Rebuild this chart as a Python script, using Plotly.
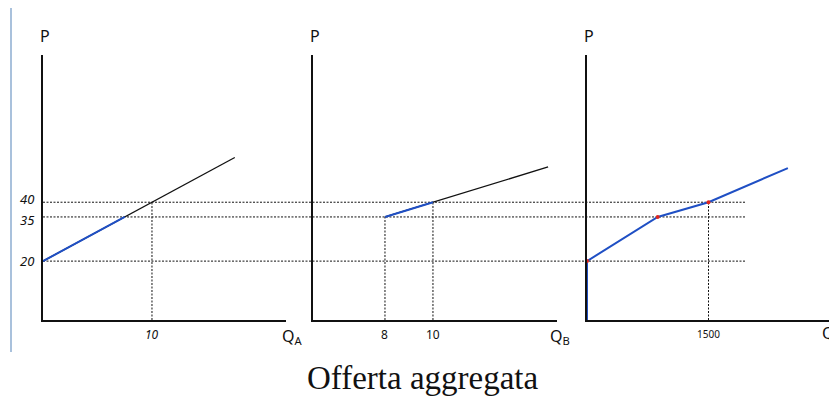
import plotly.graph_objects as go

# ---------------- data ----------------
price_levels = [40, 35, 20]
price_labels = ["40", "35", "20"]

# firm A supply
qa = [0, 7.5, 17.6]
pa = [20, 35, 55.2]
qa_blue = [0, 7.5]
pa_blue = [20, 35]
qa_tick = 10

# firm B supply
qb = [8, 10, 14.8]
pb = [35, 40, 52]
qb_blue = [8, 10]
pb_blue = [35, 40]
qb_ticks = [8, 10]
pb_ticks = [35, 40]

# aggregate supply
qm = [0, 0, 873, 1500, 2480]
pm = [0, 20, 35, 40, 51.6]
qm_kinks = [0, 873, 1500]
pm_kinks = [20, 35, 40]
qm_tick = 1500

title_text = "Offerta aggregata"

# ---------------- layout geometry ----------------
OFF = 8  # page body margin
W, H = 837 - OFF, 397 - OFF
def px(x):
    return (x - OFF) / W
def py(y):
    return 1 - (y - OFF) / H

dom_x = [[px(43), px(286)], [px(313), px(557)], [px(587), px(830)]]
dom_y = [py(320), py(55)]
yr = [0, 90]
xr = [[0, 22.3], [5.0, 15.17], [0, 3000]]

BLACK = "#111111"
BLUE = "#1f4fc4"
RED = "#e0261d"
HAND = "Noto Sans, sans-serif"
DASH = "2px,1.5px"

fig = go.Figure()

def tr(x, y, k, color=BLACK, width=1.3, dash=None, mode="lines", marker=None):
    xa = "x" if k == 1 else f"x{k}"
    ya = "y" if k == 1 else f"y{k}"
    fig.add_trace(go.Scatter(x=x, y=y, xaxis=xa, yaxis=ya, mode=mode,
                             line=dict(color=color, width=width, dash=dash),
                             marker=marker, hoverinfo="skip", showlegend=False,
                             cliponaxis=False))

# panel A
tr([qa_tick, qa_tick], [0, price_levels[0]], 1, width=1, dash=DASH)
tr(qa, pa, 1)
tr(qa_blue, pa_blue, 1, color=BLUE, width=2)

# panel B
for q, p in zip(qb_ticks, pb_ticks):
    tr([q, q], [0, p], 2, width=1, dash=DASH)
tr(qb, pb, 2)
tr(qb_blue, pb_blue, 2, color=BLUE, width=2)

# panel aggregate
tr([qm_tick, qm_tick], [0, price_levels[0]], 3, width=1, dash=DASH)
tr(qm, pm, 3, color=BLUE, width=2)
tr(qm_kinks, pm_kinks, 3, mode="markers", marker=dict(color=RED, size=4))

layout = dict(width=W, height=H, margin=dict(l=0, r=0, t=0, b=0),
              paper_bgcolor="white", plot_bgcolor="rgba(0,0,0,0)")
for k in range(3):
    sx = "xaxis" if k == 0 else f"xaxis{k+1}"
    sy = "yaxis" if k == 0 else f"yaxis{k+1}"
    ya = "y" if k == 0 else f"y{k+1}"
    xa = "x" if k == 0 else f"x{k+1}"
    layout[sx] = dict(domain=dom_x[k], range=xr[k], showgrid=False, zeroline=False,
                      showticklabels=False, ticks="", showline=True, linecolor=BLACK,
                      linewidth=1.5, anchor=ya, fixedrange=True)
    layout[sy] = dict(domain=dom_y, range=yr, showgrid=False, zeroline=False,
                      showticklabels=False, ticks="", showline=True, linecolor=BLACK,
                      linewidth=1.5, anchor=xa, fixedrange=True)
fig.update_layout(**layout)

# horizontal dashed guides across panels
x_end = dom_x[2][0] + (1960 - xr[2][0]) / (xr[2][1] - xr[2][0]) * (dom_x[2][1] - dom_x[2][0])
for p in price_levels:
    fig.add_shape(type="line", xref="paper", yref="y", x0=dom_x[0][0], x1=x_end,
                  y0=p, y1=p, line=dict(color=BLACK, width=1, dash=DASH), layer="below")

# left quote bar
fig.add_shape(type="line", xref="paper", yref="paper", x0=px(11), x1=px(11),
              y0=py(OFF), y1=py(352), line=dict(color="#a9c1dc", width=2))

# price tick labels (small nudges keep the close 40/35 labels apart)
label_shift = [3, -3, 0]
for p, lab, s in zip(price_levels, price_labels, label_shift):
    fig.add_annotation(xref="paper", yref="y", x=px(36), y=p, text=f"<i>{lab}</i>",
                       showarrow=False, xanchor="right", yanchor="middle", yshift=s,
                       font=dict(family=HAND, size=13, color=BLACK))

# quantity tick labels
def qlabel(k, q, text, size=12):
    xa = "x" if k == 1 else f"x{k}"
    fig.add_annotation(xref=xa, yref="paper", x=q, y=py(334), text=text,
                       showarrow=False, xanchor="center", yanchor="middle",
                       font=dict(family=HAND, size=size, color=BLACK))

qlabel(1, qa_tick, "<i>10</i>")
qlabel(2, qb_ticks[0], "8")
qlabel(2, qb_ticks[1], "10")
qlabel(3, qm_tick, "1500", size=10)

# axis titles
for k in range(3):
    fig.add_annotation(xref="paper", yref="paper", x=dom_x[k][0] + 2 / W, y=py(36),
                       text="P", showarrow=False, xanchor="center", yanchor="middle",
                       font=dict(family=HAND, size=16, color=BLACK))
qnames = ["Q<sub>A</sub>", "Q<sub>B</sub>"]
qx = [292, 560]
for name, x in zip(qnames, qx):
    fig.add_annotation(xref="paper", yref="paper", x=px(x), y=py(336), text=name,
                       showarrow=False, xanchor="center", yanchor="middle",
                       font=dict(family=HAND, size=16, color=BLACK))
fig.add_annotation(xref="paper", yref="paper", x=px(837), y=py(333), text="Q",
                   showarrow=False, xanchor="right", yanchor="middle",
                   font=dict(family=HAND, size=16, color=BLACK))

# caption
fig.add_annotation(xref="paper", yref="paper", x=px(423), y=py(378), text=title_text,
                   showarrow=False, xanchor="center", yanchor="middle",
                   font=dict(family="Liberation Serif, serif", size=33, color="#111111"))

fig.write_html("out.html")
